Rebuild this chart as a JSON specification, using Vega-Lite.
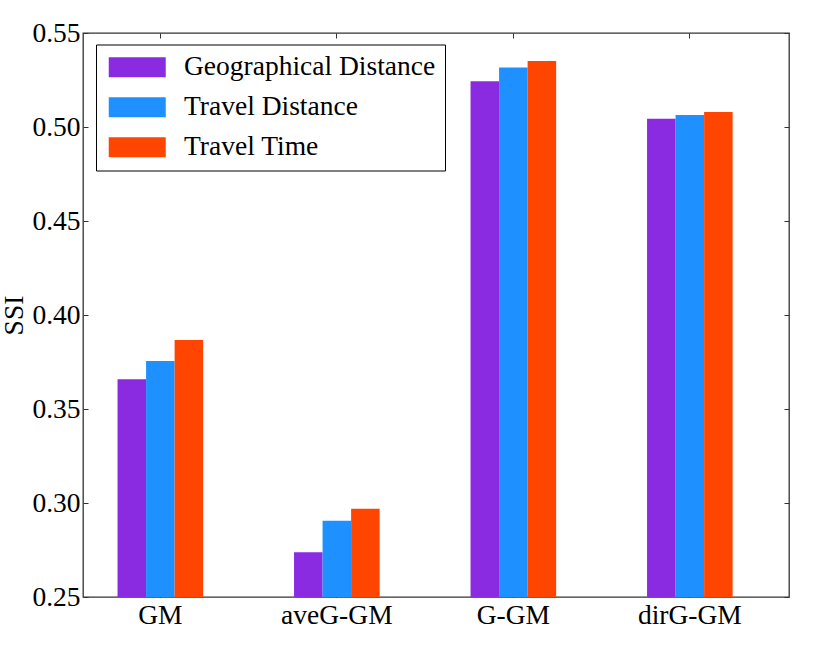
{
  "$schema": "https://vega.github.io/schema/vega-lite/v6.json",
  "width": 706,
  "height": 564,
  "autosize": "none",
  "padding": {"left": 83, "top": 33, "right": 41, "bottom": 67},
  "background": "white",
  "data": {
    "values": [
      {"model": "GM", "measure": "Geographical Distance", "ssi": 0.3658},
      {"model": "GM", "measure": "Travel Distance", "ssi": 0.3755},
      {"model": "GM", "measure": "Travel Time", "ssi": 0.3867},
      {"model": "aveG-GM", "measure": "Geographical Distance", "ssi": 0.2738},
      {"model": "aveG-GM", "measure": "Travel Distance", "ssi": 0.2906},
      {"model": "aveG-GM", "measure": "Travel Time", "ssi": 0.2970},
      {"model": "G-GM", "measure": "Geographical Distance", "ssi": 0.5243},
      {"model": "G-GM", "measure": "Travel Distance", "ssi": 0.5317},
      {"model": "G-GM", "measure": "Travel Time", "ssi": 0.5351},
      {"model": "dirG-GM", "measure": "Geographical Distance", "ssi": 0.5044},
      {"model": "dirG-GM", "measure": "Travel Distance", "ssi": 0.5064},
      {"model": "dirG-GM", "measure": "Travel Time", "ssi": 0.5080}
    ]
  },
  "encoding": {
    "xOffset": {
      "field": "measure",
      "type": "nominal",
      "sort": ["Geographical Distance", "Travel Distance", "Travel Time"],
      "scale": {"paddingInner": 0, "paddingOuter": 0}
    },
    "y2": {"datum": 0.25}
  },
  "layer": [
    {
      "mark": {"type": "bar"},
      "encoding": {
        "x": {
          "field": "model",
          "type": "nominal",
          "sort": ["GM", "aveG-GM", "G-GM", "dirG-GM"],
          "scale": {"paddingInner": 0.515, "paddingOuter": 0.2575, "align": 0.38},
          "axis": {"orient": "bottom", "title": null, "labelAngle": 0, "labelPadding": 9}
        },
        "y": {
          "field": "ssi",
          "type": "quantitative",
          "scale": {"domain": [0.25, 0.55], "zero": false, "nice": false},
          "axis": {"orient": "left", "title": "SSI", "format": ".2f", "values": [0.25, 0.3, 0.35, 0.4, 0.45, 0.5, 0.55], "labelPadding": 8, "titlePadding": 3}
        },
        "color": {
          "field": "measure",
          "type": "nominal",
          "scale": {
            "domain": ["Geographical Distance", "Travel Distance", "Travel Time"],
            "range": ["#8A2BE2", "#1E90FF", "#FF4500"]
          },
          "legend": {
            "title": null,
            "orient": "none",
            "legendX": 13,
            "legendY": 11.5,
            "fillColor": "white",
            "strokeColor": "black",
            "padding": 9,
            "symbolType": "M-4.071,-1.4286H4.071V1.4286H-4.071Z",
            "symbolSize": 196,
            "symbolOffset": 18.5,
            "symbolStrokeWidth": 0,
            "labelFont": "Liberation Serif",
            "labelFontSize": 27.5,
            "labelColor": "black",
            "labelOffset": 33,
            "rowPadding": 11,
            "labelLimit": 400
          }
        }
      }
    },
    {
      "mark": {"type": "bar", "opacity": 0},
      "encoding": {
        "x": {
          "field": "model",
          "type": "nominal",
          "sort": ["GM", "aveG-GM", "G-GM", "dirG-GM"],
          "scale": {"paddingInner": 0.515, "paddingOuter": 0.2575, "align": 0.38},
          "axis": {"orient": "top", "title": null, "labels": false}
        },
        "y": {
          "field": "ssi",
          "type": "quantitative",
          "scale": {"domain": [0.25, 0.55], "zero": false, "nice": false},
          "axis": {"orient": "right", "title": null, "labels": false, "values": [0.25, 0.3, 0.35, 0.4, 0.45, 0.5, 0.55]}
        }
      }
    }
  ],
  "resolve": {"axis": {"x": "independent", "y": "independent"}},
  "config": {
    "view": {"stroke": "#333", "strokeWidth": 1.3},
    "axis": {
      "domain": false,
      "grid": false,
      "tickSize": -5,
      "tickColor": "#333",
      "labelFont": "Liberation Serif",
      "labelFontSize": 27.5,
      "labelColor": "black",
      "titleFont": "Liberation Serif",
      "titleFontSize": 27.5,
      "titleFontWeight": "normal",
      "titleColor": "black"
    }
  }
}
